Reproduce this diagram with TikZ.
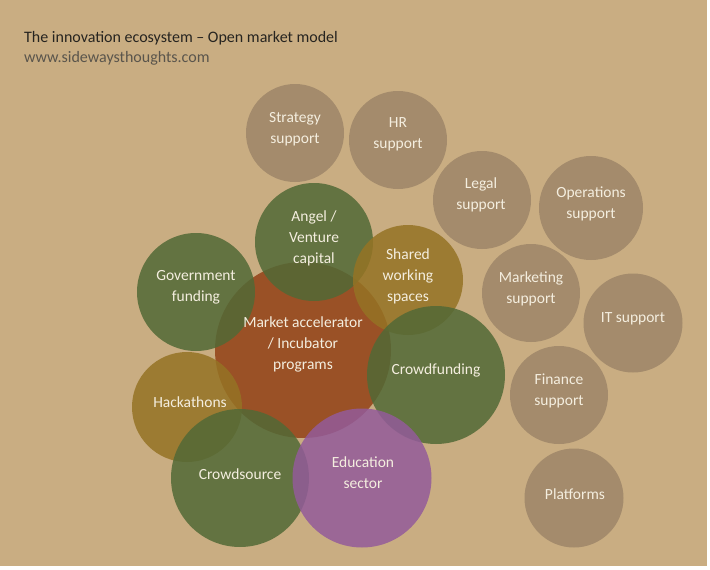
\documentclass[tikz,border=0pt]{standalone}
\usepackage{fontspec}
\setmainfont{Carlito}
\definecolor{bg}{HTML}{C9AD82}
\definecolor{greyc}{HTML}{A48B6C}
\definecolor{greenc}{HTML}{526936}
\definecolor{orangec}{HTML}{924216}
\definecolor{goldc}{HTML}{957324}
\definecolor{purplec}{HTML}{935B9A}
\definecolor{lbltext}{HTML}{F4EEDF}
\definecolor{titletext}{HTML}{262420}
\definecolor{urltext}{HTML}{5A554C}
\begin{document}
\begin{tikzpicture}[x=1pt,y=-1pt,
  bub/.style={circle,inner sep=0pt,draw=none,minimum size=#1},
  opaq/.style={fill opacity=0.85},
  lbl/.style={text=lbltext,align=center,font=\fontsize{15.5}{21}\selectfont,inner sep=0pt,yshift=-2pt},
  ttl/.style={anchor=west,inner sep=0pt,font=\fontsize{16}{19}\selectfont}]
\useasboundingbox (0,0) rectangle (710,570);
\fill[white] (0,0) rectangle (710,570);
\fill[bg] (0,0) rectangle (707,566);
% title
\node[ttl,text=titletext] (title) at (24,38) {The innovation ecosystem – Open market model};
\node[ttl,text=urltext] (url) at (24,58) {www.sidewaysthoughts.com};
% support circles (opaque)
\node[bub=98pt,fill=greyc] (strat) at (295,133) {};
\node[bub=98pt,fill=greyc] (hr) at (398,140) {};
\node[bub=98pt,fill=greyc] (legal) at (482,200) {};
\node[bub=104pt,fill=greyc] (ops) at (591,208) {};
\node[bub=98pt,fill=greyc] (mkt) at (531,293) {};
\node[bub=99pt,fill=greyc] (it) at (633,323) {};
\node[bub=98pt,fill=greyc] (fin) at (559,395) {};
\node[bub=99pt,fill=greyc] (plat) at (574,498) {};
% core circles (translucent)
\node[bub=176pt,fill=orangec,opaq] (acc) at (303,350) {};
\node[bub=118pt,fill=greenc,opaq] (gov) at (196,292) {};
\node[bub=118pt,fill=greenc,opaq] (angel) at (314,242) {};
\node[bub=110pt,fill=goldc,opaq] (shared) at (408,280) {};
\node[bub=138pt,fill=greenc,opaq] (cfund) at (436,375) {};
\node[bub=110pt,fill=goldc,opaq] (hack) at (187,407) {};
\node[bub=138pt,fill=greenc,opaq] (csrc) at (240,478) {};
\node[bub=139pt,fill=purplec,opaq] (edu) at (362,478) {};
% labels
\node[lbl] (strat-t) at (295,127) {Strategy\\support};
\node[lbl] (hr-t) at (398,132) {HR\\support};
\node[lbl] (legal-t) at (481,193) {Legal\\support};
\node[lbl] (ops-t) at (591,202) {Operations\\support};
\node[lbl] (mkt-t) at (531,287) {Marketing\\support};
\node[lbl] (it-t) at (633,317) {IT support};
\node[lbl] (fin-t) at (559,389) {Finance\\support};
\node[lbl] (plat-t) at (575,492) {Platforms};
\node[lbl] (angel-t) at (314,236) {Angel /\\Venture\\capital};
\node[lbl] (gov-t) at (196,285) {Government\\funding};
\node[lbl] (shared-t) at (408,274) {Shared\\working\\spaces};
\node[lbl] (acc-t) at (303,342) {Market accelerator\\/ Incubator\\programs};
\node[lbl] (cfund-t) at (436,368) {Crowdfunding};
\node[lbl] (hack-t) at (190,400) {Hackathons};
\node[lbl] (csrc-t) at (240,472) {Crowdsource};
\node[lbl] (edu-t) at (363,471) {Education\\sector};
\end{tikzpicture}
\end{document}
